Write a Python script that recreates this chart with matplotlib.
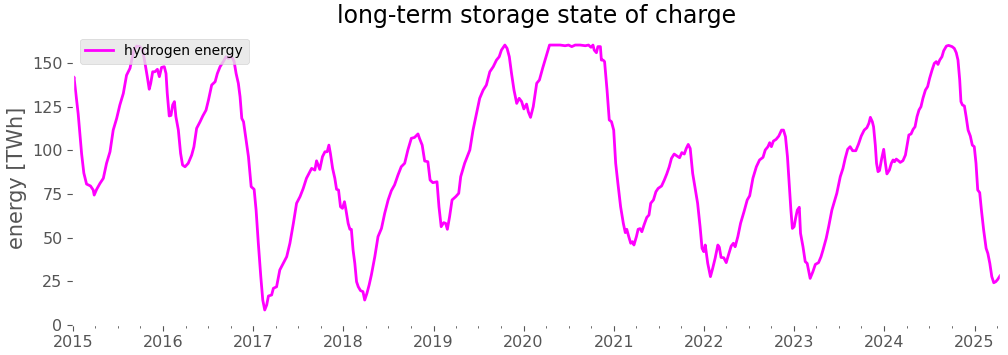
import pandas as pd
import matplotlib
matplotlib.use("Agg")
import matplotlib.pyplot as plt
import matplotlib.dates as mdates

# hydrogen storage level (TWh)
dates = [
    "2015-01-01", "2015-01-05", "2015-01-22", "2015-02-05", "2015-02-14", "2015-02-25",
    "2015-03-13", "2015-03-24", "2015-03-28", "2015-04-07", "2015-04-20", "2015-05-04",
    "2015-05-17", "2015-05-31", "2015-06-13", "2015-06-27", "2015-07-10", "2015-07-24",
    "2015-08-06", "2015-08-20", "2015-08-27", "2015-09-05", "2015-09-16", "2015-09-29",
    "2015-10-10", "2015-10-20", "2015-10-29", "2015-11-06", "2015-11-12", "2015-11-20",
    "2015-11-29", "2015-12-09", "2015-12-17", "2015-12-26", "2016-01-06", "2016-01-13",
    "2016-01-18", "2016-01-26", "2016-02-02", "2016-02-09", "2016-02-16", "2016-02-22",
    "2016-03-03", "2016-03-12", "2016-03-20", "2016-03-30", "2016-04-12", "2016-04-26",
    "2016-05-05", "2016-05-16", "2016-05-30", "2016-06-10", "2016-06-23", "2016-07-03",
    "2016-07-16", "2016-07-30", "2016-08-08", "2016-08-19", "2016-09-01", "2016-09-12",
    "2016-09-22", "2016-10-01", "2016-10-09", "2016-10-15", "2016-10-23", "2016-11-01",
    "2016-11-08", "2016-11-15", "2016-11-22", "2016-12-12", "2016-12-23", "2017-01-04",
    "2017-01-12", "2017-01-21", "2017-01-31", "2017-02-08", "2017-02-16", "2017-02-24",
    "2017-03-03", "2017-03-16", "2017-03-23", "2017-04-05", "2017-04-18", "2017-05-02",
    "2017-05-16", "2017-05-29", "2017-06-12", "2017-06-25", "2017-07-09", "2017-07-22",
    "2017-08-04", "2017-08-18", "2017-08-25", "2017-09-07", "2017-09-14", "2017-09-27",
    "2017-10-08", "2017-10-18", "2017-10-27", "2017-11-03", "2017-11-09", "2017-11-18",
    "2017-11-27", "2017-12-04", "2017-12-12", "2017-12-20", "2017-12-28", "2018-01-05",
    "2018-01-10", "2018-01-20", "2018-01-27", "2018-02-02", "2018-02-09", "2018-02-16",
    "2018-02-23", "2018-03-02", "2018-03-11", "2018-03-21", "2018-03-28", "2018-04-06",
    "2018-04-15", "2018-04-24", "2018-05-08", "2018-05-21", "2018-06-04", "2018-06-17",
    "2018-07-01", "2018-07-14", "2018-07-27", "2018-08-10", "2018-08-23", "2018-09-06",
    "2018-09-19", "2018-10-03", "2018-10-16", "2018-10-30", "2018-11-05", "2018-11-16",
    "2018-11-26", "2018-12-09", "2018-12-18", "2018-12-29", "2019-01-15", "2019-01-23",
    "2019-02-01", "2019-02-11", "2019-02-19", "2019-02-26", "2019-03-07", "2019-03-17",
    "2019-04-01", "2019-04-13", "2019-04-21", "2019-05-07", "2019-05-28", "2019-06-10",
    "2019-06-24", "2019-07-07", "2019-07-21", "2019-08-03", "2019-08-17", "2019-08-31",
    "2019-09-13", "2019-09-24", "2019-10-03", "2019-10-17", "2019-10-26", "2019-11-04",
    "2019-11-13", "2019-11-23", "2019-12-04", "2019-12-14", "2019-12-24", "2020-01-02",
    "2020-01-13", "2020-01-20", "2020-01-29", "2020-02-09", "2020-02-23", "2020-03-05",
    "2020-03-18", "2020-04-01", "2020-04-15", "2020-05-01", "2020-05-28", "2020-06-17",
    "2020-07-01", "2020-07-14", "2020-07-28", "2020-08-17", "2020-09-07", "2020-09-20",
    "2020-09-30", "2020-10-08", "2020-10-13", "2020-10-22", "2020-10-28", "2020-11-07",
    "2020-11-11", "2020-11-18", "2020-11-24", "2020-12-04", "2020-12-13", "2020-12-22",
    "2020-12-31", "2021-01-08", "2021-01-17", "2021-01-28", "2021-02-08", "2021-02-16",
    "2021-02-22", "2021-03-02", "2021-03-10", "2021-03-17", "2021-03-23", "2021-04-02",
    "2021-04-09", "2021-04-17", "2021-04-24", "2021-05-03", "2021-05-14", "2021-05-23",
    "2021-05-30", "2021-06-10", "2021-06-20", "2021-06-29", "2021-07-13", "2021-07-24",
    "2021-08-03", "2021-08-13", "2021-08-22", "2021-09-02", "2021-09-13", "2021-09-24",
    "2021-10-03", "2021-10-13", "2021-10-21", "2021-10-29", "2021-11-06", "2021-11-16",
    "2021-11-25", "2021-12-06", "2021-12-16", "2021-12-24", "2021-12-31", "2022-01-06",
    "2022-01-16", "2022-01-27", "2022-02-05", "2022-02-15", "2022-02-26", "2022-03-04",
    "2022-03-11", "2022-03-22", "2022-04-01", "2022-04-10", "2022-04-21", "2022-04-30",
    "2022-05-07", "2022-05-18", "2022-05-29", "2022-06-12", "2022-06-25", "2022-07-05",
    "2022-07-18", "2022-08-01", "2022-08-14", "2022-08-28", "2022-09-06", "2022-09-17",
    "2022-09-24", "2022-10-01", "2022-10-09", "2022-10-20", "2022-10-31", "2022-11-11",
    "2022-11-19", "2022-11-27", "2022-12-05", "2022-12-12", "2022-12-19", "2022-12-25",
    "2023-01-01", "2023-01-07", "2023-01-14", "2023-01-22", "2023-01-27", "2023-02-06",
    "2023-02-15", "2023-02-23", "2023-03-07", "2023-03-18", "2023-03-28", "2023-04-10",
    "2023-04-20", "2023-04-28", "2023-05-11", "2023-05-21", "2023-06-03", "2023-06-13",
    "2023-06-23", "2023-07-07", "2023-07-18", "2023-07-27", "2023-08-06", "2023-08-16",
    "2023-08-26", "2023-09-08", "2023-09-19", "2023-09-30", "2023-10-12", "2023-10-23",
    "2023-10-31", "2023-11-06", "2023-11-14", "2023-11-19", "2023-11-26", "2023-12-01",
    "2023-12-07", "2023-12-13", "2023-12-22", "2023-12-30", "2024-01-05", "2024-01-12",
    "2024-01-22", "2024-01-30", "2024-02-06", "2024-02-12", "2024-02-19", "2024-02-29",
    "2024-03-06", "2024-03-17", "2024-03-27", "2024-04-02", "2024-04-10", "2024-04-19",
    "2024-04-27", "2024-05-05", "2024-05-13", "2024-05-21", "2024-05-29", "2024-06-06",
    "2024-06-16", "2024-06-25", "2024-07-03", "2024-07-13", "2024-07-22", "2024-07-30",
    "2024-08-06", "2024-08-13", "2024-08-22", "2024-08-29", "2024-09-09", "2024-09-18",
    "2024-10-02", "2024-10-11", "2024-10-19", "2024-10-26", "2024-11-02", "2024-11-07",
    "2024-11-13", "2024-11-21", "2024-11-28", "2024-12-06", "2024-12-15", "2024-12-23",
    "2024-12-31", "2025-01-07", "2025-01-14", "2025-01-22", "2025-01-29", "2025-02-07",
    "2025-02-17", "2025-02-24", "2025-03-04", "2025-03-12", "2025-03-20", "2025-03-28",
    "2025-04-05", "2025-04-14",
]
hydrogen = [
    138, 142, 121, 98, 87, 80.7,
    79.6, 77.3, 74.4, 77.7, 81, 84,
    92.6, 99.2, 111.6, 118.3, 126, 132.6,
    143, 147, 151.7, 157.4, 159.7, 159.4,
    157.4, 149.8, 142.2, 135, 138.4, 145,
    145, 146.4, 142.2, 147.5, 147.9, 144,
    132.6, 119.7, 120, 126, 127.9, 119.3,
    111.6, 98.3, 91.6, 90.6, 92.6, 97.3,
    102, 112.6, 116.4, 119.7, 123, 128.8,
    137.4, 139.3, 144, 147.9, 150.8, 153.6,
    152.7, 153.6, 152.7, 150.8, 144, 138.4,
    130.7, 118.3, 116.4, 96.4, 79.2, 77.7,
    65.8, 46.8, 27.7, 14.3, 8.6, 11.5,
    16.6, 17.2, 21, 21.9, 31.5, 35.3,
    39.1, 46.8, 58.2, 69.7, 73.5, 78.2,
    84, 87.8, 89.7, 88.7, 94, 89.1,
    96.4, 99.2, 99.2, 103, 98.3, 89.7,
    84, 77.7, 77.3, 67.7, 66.8, 70.6,
    66.8, 58.2, 54.8, 54.8, 42.9, 35.3,
    24.8, 21.9, 19.7, 19.1, 14.3, 18.1,
    22.9, 28.6, 39.1, 50.6, 55.3, 63.9,
    71.6, 76.9, 80.2, 85.9, 90.6, 92.6,
    100.2, 106.9, 107.4, 109.4, 106.9, 103,
    93.9, 93.5, 83, 81.5, 82, 67.7,
    56.3, 58.6, 58.2, 54.8, 62, 71.6,
    73.5, 75.4, 84.9, 92.6, 100.2, 111.6,
    121.2, 129.8, 134.5, 137.4, 145, 147.9,
    151.7, 153.6, 157.4, 160.3, 158.4, 153.6,
    144, 134.5, 126.9, 129.8, 127.9, 123.7,
    126.5, 122.1, 118.9, 125, 138.4, 140.3,
    147, 153.6, 160.3, 160.3, 160.3, 159.9,
    160.3, 159.4, 160.3, 160.3, 159.9, 160.3,
    159, 160.3, 157.4, 155.9, 159.4, 159.4,
    151.7, 151.7, 150.8, 134.5, 117.4, 116.4,
    111.6, 92.6, 81.1, 67.7, 58.2, 52.9,
    54.8, 50.6, 46.8, 47.7, 45.8, 50.6,
    54.8, 55.2, 53.4, 57.3, 61.6, 63,
    69.7, 71.6, 76.3, 78.2, 79.6, 83,
    86.5, 90.6, 95.4, 97.9, 96.8, 95.8,
    98.7, 97.9, 101.1, 103.4, 101.1, 86.8,
    79.2, 69.7, 56.3, 43.9, 42, 45.8,
    35.3, 27.7, 32.4, 38.2, 45.8, 44.5,
    38.7, 38.5, 35.7, 40.1, 45.2, 46.8,
    44.8, 50.6, 58.2, 64.9, 71.6, 74,
    84, 90.6, 94.5, 96, 100.2, 102.1,
    104.4, 102.1, 105.3, 106.3, 108.2, 111.6,
    111.6, 107.8, 96.4, 81.1, 65.8, 55.3,
    56.3, 61.1, 65.8, 67.4, 52.5, 44.8,
    36.3, 35.3, 26.7, 30.5, 34.7, 35.7,
    39.1, 42.9, 49.6, 56.3, 65.8, 70.6,
    75.4, 84.9, 89.7, 95.4, 100.6, 102.1,
    99.8, 99.8, 103.6, 108.2, 111.6, 113,
    115.5, 118.9, 116.4, 113.5, 103, 92.6,
    87.8, 88.4, 95.4, 100.6, 93.5, 86.5,
    88.7, 92.6, 94.5, 93.5, 95, 93.9,
    93.1, 94.1, 97.3, 102.1, 108.8, 109.4,
    112, 113.5, 119.3, 123.1, 125, 129.8,
    134.5, 136.5, 141.2, 146, 149.8, 150.8,
    149.2, 151.7, 153.6, 157, 159.7, 160.1,
    159.4, 158.4, 155.9, 151.7, 140.3, 127.9,
    126, 125.4, 119.3, 111.6, 108.2, 103,
    102.1, 92.6, 77.3, 75.8, 65.8, 54.4,
    43.9, 41, 35.3, 27.7, 24.2, 24.8,
    26.1, 28.1,
]

plt.style.use("ggplot")
plt.rcParams["axes.facecolor"] = "#E5E5E5"

df = pd.DataFrame({"hydrogen energy": hydrogen}, index=pd.to_datetime(dates))

fig = plt.figure(figsize=(10.08, 3.55), dpi=100)
ax = fig.add_axes([0.0724, 0.0845, 0.9196, 0.8265])
ax.set_facecolor("white")
ax.grid(False)

ax.plot(df.index, df["hydrogen energy"], color="#ff00ff", lw=2, label="hydrogen energy")

ax.set_xlim(df.index[0], df.index[-1])
ax.set_ylim(0, 168)
ax.set_yticks([0, 25, 50, 75, 100, 125, 150])

ax.xaxis.set_major_locator(mdates.YearLocator())
ax.xaxis.set_major_formatter(mdates.DateFormatter("%Y"))
ax.xaxis.set_minor_locator(mdates.MonthLocator(bymonth=[4, 7, 10]))
ax.tick_params(axis="both", which="major", labelsize=11.5, length=4, color="#555555")
ax.tick_params(axis="x", which="minor", length=2, color="#555555")

ax.set_ylabel("energy [TWh]", fontsize=15, color="#555555")
ax.set_title("long-term storage state of charge", fontsize=17, color="black")

ax.legend(loc="upper left", fontsize=10)

fig.savefig("out.png", dpi=100)
